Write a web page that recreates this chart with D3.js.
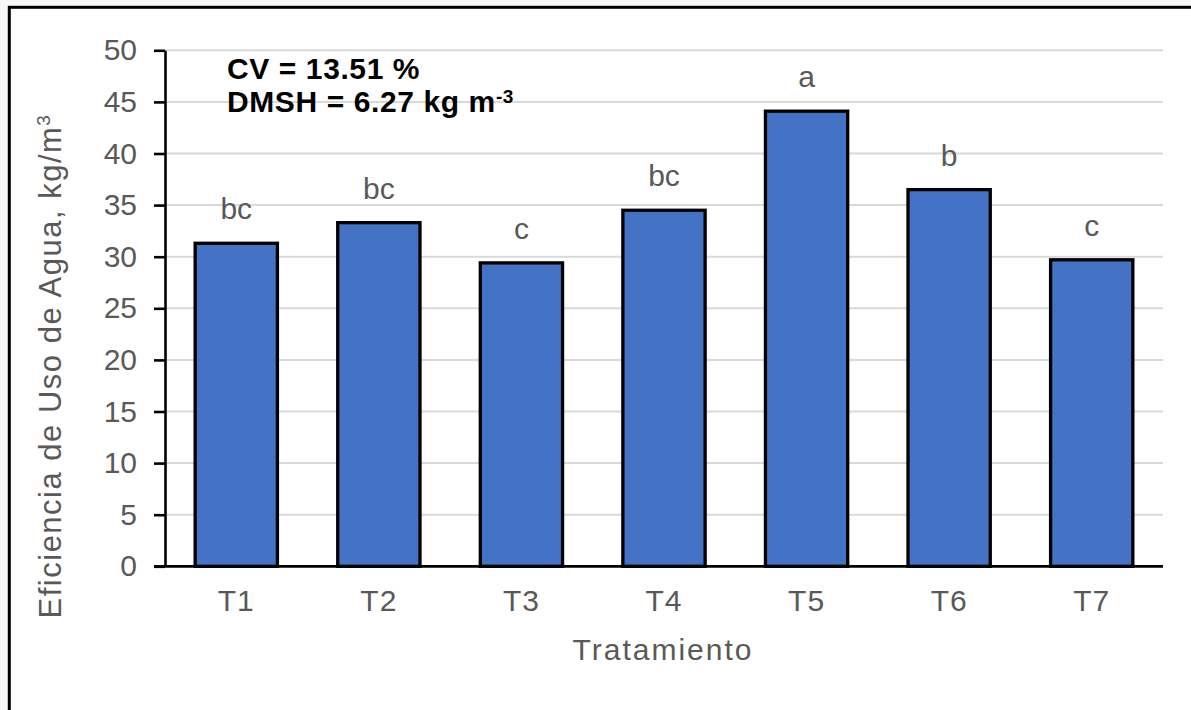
<!DOCTYPE html>
<html>
<head>
<meta charset="utf-8">
<script src="https://cdn.jsdelivr.net/npm/d3@7"></script>
<style>
  html, body { margin: 0; padding: 0; background: #f7f7f7; }
  svg { display: block; }
  text { font-family: "Liberation Sans", Arial, sans-serif; }
</style>
</head>
<body>
<svg id="chart" width="1191" height="710"></svg>
<script>
const categories = ["T1", "T2", "T3", "T4", "T5", "T6", "T7"];
const values = [31.3, 33.3, 29.4, 34.5, 44.1, 36.5, 29.7];
const letters = ["bc", "bc", "c", "bc", "a", "b", "c"];
const yTicks = [0, 5, 10, 15, 20, 25, 30, 35, 40, 45, 50];
const xTitle = "Tratamiento";
const yTitle = "Eficiencia de Uso de Agua, kg/m";
const yTitleSup = "3";
const note1 = "CV = 13.51 %";
const note2 = "DMSH = 6.27 kg m";
const note2Sup = "-3";

const svg = d3.select("#chart");
const gray = "#595959";

// outer frame
svg.append("rect")
  .attr("x", 9.3).attr("y", 7.3)
  .attr("width", 1200).attr("height", 720)
  .attr("fill", "#ffffff").attr("stroke", "#000").attr("stroke-width", 3);

const plot = { left: 165, right: 1163, top: 50.3, bottom: 566.3 };

const x = d3.scaleBand()
  .domain(categories)
  .range([plot.left, plot.right])
  .paddingInner(0.423)
  .paddingOuter(0.2115);

const y = d3.scaleLinear()
  .domain([0, 50])
  .range([plot.bottom, plot.top]);

// gridlines
svg.append("g").selectAll("line")
  .data(yTicks.filter(d => d > 0))
  .join("line")
  .attr("x1", plot.left).attr("x2", plot.right)
  .attr("y1", d => y(d)).attr("y2", d => y(d))
  .attr("stroke", "#d9d9d9").attr("stroke-width", 2);

// bars
svg.append("g").selectAll("rect")
  .data(categories.map((c, i) => ({ c, v: values[i] })))
  .join("rect")
  .attr("x", d => x(d.c))
  .attr("width", x.bandwidth())
  .attr("y", d => y(d.v))
  .attr("height", d => y(0) - y(d.v))
  .attr("fill", "#4472C4")
  .attr("stroke", "#000")
  .attr("stroke-width", 3.3);

// letters
svg.append("g").selectAll("text")
  .data(categories.map((c, i) => ({ c, v: values[i], l: letters[i] })))
  .join("text")
  .attr("x", d => x(d.c) + x.bandwidth() / 2)
  .attr("y", d => y(d.v) - 24)
  .attr("text-anchor", "middle")
  .attr("font-size", 30)
  .attr("fill", gray)
  .text(d => d.l);

// y axis
const yAxis = svg.append("g")
  .attr("transform", `translate(${plot.left},0)`)
  .call(d3.axisLeft(y).tickValues(yTicks).tickSize(11).tickSizeOuter(0).tickPadding(17));
yAxis.select(".domain").attr("stroke", "#000").attr("stroke-width", 2.6);
yAxis.selectAll(".tick line").attr("stroke", "#000").attr("stroke-width", 2.6);
yAxis.selectAll(".tick text")
  .attr("font-size", 30)
  .attr("fill", gray)
  .attr("font-family", "Liberation Sans, Arial, sans-serif")
  .attr("dy", "0.32em");

// x axis
const xAxis = svg.append("g")
  .attr("transform", `translate(0,${plot.bottom})`)
  .call(d3.axisBottom(x).tickSize(0).tickSizeOuter(0));
xAxis.select(".domain").remove();
xAxis.append("line")
  .attr("x1", 154).attr("x2", plot.right)
  .attr("y1", 0).attr("y2", 0)
  .attr("stroke", "#000").attr("stroke-width", 2.7);
xAxis.selectAll(".tick text")
  .attr("y", 44.7)
  .attr("dy", null)
  .attr("font-size", 30)
  .attr("fill", gray)
  .attr("font-family", "Liberation Sans, Arial, sans-serif")
  .style("letter-spacing", "1px");

// x title
svg.append("text")
  .attr("x", 663).attr("y", 660)
  .attr("text-anchor", "middle")
  .attr("font-size", 30)
  .attr("fill", gray)
  .style("letter-spacing", "2px")
  .text(xTitle);

// y title
const yt = svg.append("text")
  .attr("transform", "translate(61,366) rotate(-90)")
  .attr("text-anchor", "middle")
  .attr("font-size", 31)
  .attr("fill", gray)
  .style("letter-spacing", "1.5px");
yt.append("tspan").text(yTitle);
yt.append("tspan").attr("font-size", 19).attr("dy", -11).text(yTitleSup);

// notes
svg.append("text")
  .attr("x", 227).attr("y", 79.3)
  .attr("font-size", 30).attr("font-weight", "bold").attr("fill", "#000")
  .style("letter-spacing", "0.6px")
  .text(note1);
const n2 = svg.append("text")
  .attr("x", 227).attr("y", 111.7)
  .attr("font-size", 30).attr("font-weight", "bold").attr("fill", "#000")
  .style("letter-spacing", "0.6px");
n2.append("tspan").text(note2);
n2.append("tspan").attr("font-size", 19).attr("dy", -9).text(note2Sup);
</script>
</body>
</html>
